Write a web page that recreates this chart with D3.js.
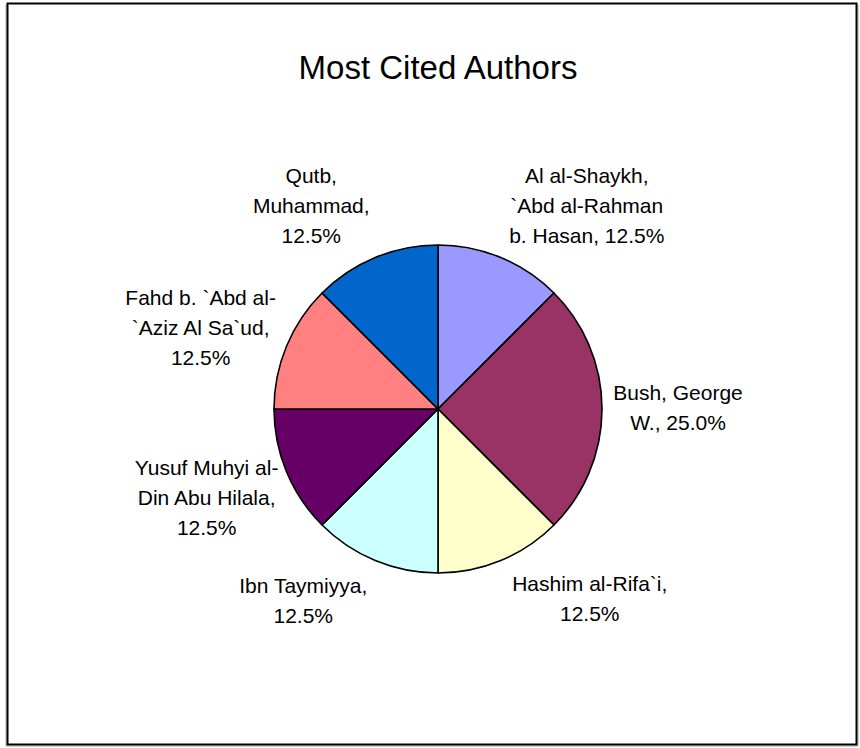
<!DOCTYPE html>
<html>
<head>
<meta charset="utf-8">
<script src="https://cdn.jsdelivr.net/npm/d3@7"></script>
<style>
  html, body { margin: 0; padding: 0; background: #fff; }
  svg { display: block; }
  text { font-family: "Liberation Sans", Arial, sans-serif; fill: #000; }
</style>
</head>
<body>
<svg id="chart" width="860" height="748"></svg>
<script>
// ---- data ----
const title = "Most Cited Authors";
const authors = [
  "Al al-Shaykh, `Abd al-Rahman b. Hasan",
  "Bush, George W.",
  "Hashim al-Rifa`i",
  "Ibn Taymiyya",
  "Yusuf Muhyi al-Din Abu Hilala",
  "Fahd b. `Abd al-`Aziz Al Sa`ud",
  "Qutb, Muhammad"
];
const citations = [1, 2, 1, 1, 1, 1, 1];
const labelLines = [
  ["Al al-Shaykh,", "`Abd al-Rahman", "b. Hasan, 12.5%"],
  ["Bush, George", "W., 25.0%"],
  ["Hashim al-Rifa`i,", "12.5%"],
  ["Ibn Taymiyya,", "12.5%"],
  ["Yusuf Muhyi al-", "Din Abu Hilala,", "12.5%"],
  ["Fahd b. `Abd al-", "`Aziz Al Sa`ud,", "12.5%"],
  ["Qutb,", "Muhammad,", "12.5%"]
];
const colors = ["#9999FF", "#993366", "#FFFFCC", "#CCFFFF", "#660066", "#FF8080", "#0066CC"];

// ---- layout (not data) ----
const W = 860, H = 748;
const cx = 438, cy = 409, R = 164;
const labelR = 245;
const labelNudge = [[55, 23], [-5, -1], [58, -37], [-41, -35], [-5, -5], [-11, 12], [-33, 23]];
const lineH = 30;

const svg = d3.select("#chart");

svg.append("rect")
  .attr("x", 6).attr("y", 5).attr("width", 852).attr("height", 741)
  .attr("fill", "none").attr("stroke", "#aaa").attr("stroke-width", 1);
svg.append("rect")
  .attr("x", 7.5).attr("y", 3.5).attr("width", 849).attr("height", 741)
  .attr("fill", "#fff").attr("stroke", "#000").attr("stroke-width", 2);

svg.append("text")
  .attr("x", cx).attr("y", 79)
  .attr("text-anchor", "middle")
  .style("font-size", "33px")
  .text(title);

const data = authors.map((a, i) => ({ name: a, value: citations[i], color: colors[i], lines: labelLines[i], i }));

const pie = d3.pie().value(d => d.value).sort(null);
const arcs = pie(data);
const arc = d3.arc().innerRadius(0).outerRadius(R);
const labelArc = d3.arc().innerRadius(labelR).outerRadius(labelR);

const g = svg.append("g").attr("transform", `translate(${cx},${cy})`);

g.selectAll("path.slice")
  .data(arcs)
  .join("path")
  .attr("class", "slice")
  .attr("d", arc)
  .attr("fill", d => d.data.color)
  .attr("stroke", "#000")
  .attr("stroke-width", 1.6)
  .attr("stroke-linejoin", "round");

const labels = g.selectAll("text.lbl")
  .data(arcs)
  .join("text")
  .attr("class", "lbl")
  .attr("text-anchor", "middle")
  .style("font-size", "21px")
  .attr("transform", d => {
    const [x, y] = labelArc.centroid(d);
    const n = labelNudge[d.data.i];
    return `translate(${x + n[0]},${y + n[1]})`;
  });

labels.each(function(d) {
  const lines = d.data.lines;
  const t = d3.select(this);
  lines.forEach((ln, k) => {
    t.append("tspan")
      .attr("x", 0)
      .attr("y", (k - (lines.length - 1) / 2) * lineH)
      .attr("dy", "0.35em")
      .text(ln);
  });
});
</script>
</body>
</html>
